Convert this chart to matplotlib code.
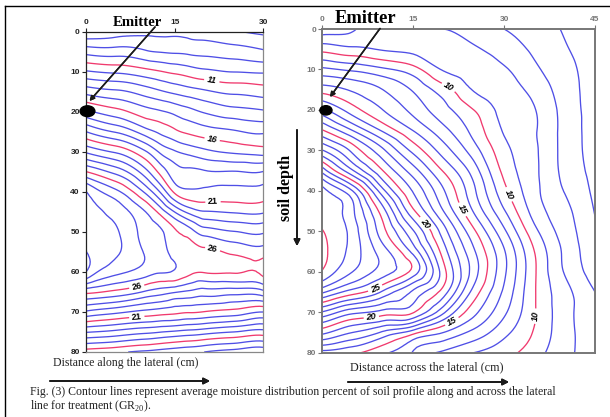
import numpy as np
import matplotlib
matplotlib.use("Agg")
import matplotlib.pyplot as plt
import matplotlib.tri as mtri
from matplotlib.patches import Ellipse
from matplotlib.lines import Line2D

# ---- soil moisture (%) sampled on a grid; rows = depth, columns = distance ----
depth_cm = [0, 5, 10, 15, 20, 25, 30, 35, 40, 45, 50, 55, 60, 65, 70, 75, 80]

along_cm = [0, 5, 10, 12.5, 15, 17.5, 20, 25, 30]
along_moisture = [
    [7.1, 7.5, 7.8, 7.82, 7.85, 7.7, 7.5, 7.1, 6.8],
    [9.68, 9.52, 9.17, 8.98, 8.89, 8.8, 8.72, 8.51, 8.17],
    [12.15, 11.86, 11.41, 11.11, 10.82, 10.53, 10.27, 10.0, 9.9],
    [14.68, 14.24, 13.58, 13.18, 12.81, 12.49, 12.21, 11.81, 11.56],
    [17.29, 16.42, 15.46, 15.15, 14.77, 14.34, 13.93, 13.42, 13.16],
    [20.05, 18.95, 17.5, 16.82, 16.24, 15.82, 15.51, 15.15, 14.88],
    [22.88, 21.89, 20.17, 18.88, 18.13, 17.68, 17.3, 16.85, 16.57],
    [26.07, 24.7, 22.43, 20.76, 19.44, 19.21, 19.13, 19.08, 19.05],
    [29.05, 27.32, 24.85, 23.0, 20.83, 20.2, 20.22, 20.33, 20.42],
    [29.35, 28.64, 27.05, 25.7, 24.0, 22.7, 22.1, 21.91, 21.88],
    [29.6, 29.15, 27.6, 27.2, 26.17, 25.5, 24.57, 24.07, 23.88],
    [30.02, 29.15, 27.9, 27.5, 26.6, 26.5, 26.29, 25.8, 25.52],
    [30.0, 28.3, 27.5, 27.1, 26.9, 26.3, 26.07, 26.1, 26.35],
    [26.29, 25.72, 24.86, 24.45, 24.09, 23.8, 23.53, 23.42, 23.7],
    [22.83, 22.25, 21.7, 21.48, 21.28, 21.1, 20.95, 20.6, 20.0],
    [19.07, 18.71, 18.25, 18.04, 17.83, 17.62, 17.41, 16.99, 16.6],
    [15.5, 15.2, 14.8, 14.6, 14.4, 14.2, 14.0, 13.6, 13.3],
]

across_cm = [0, 5, 10, 15, 20, 25, 30, 35, 40, 45]
across_moisture = [
    [7.4, 7.9, 8.25, 8.25, 8.0, 7.5, 7.0, 6.45, 5.92, 5.35],
    [9.67, 9.25, 8.9, 8.7, 8.5, 8.15, 7.55, 6.8, 6.1, 5.45],
    [12.24, 11.8, 11.2, 10.4, 8.9, 8.5, 8.1, 7.2, 6.34, 5.55],
    [14.54, 13.85, 13.0, 11.9, 10.45, 8.92, 8.4, 7.67, 6.5, 5.6],
    [17.28, 15.44, 14.0, 12.7, 11.35, 10.0, 8.68, 8.05, 6.62, 5.65],
    [20.05, 17.95, 15.8, 13.95, 12.3, 10.65, 8.9, 8.1, 6.65, 5.65],
    [23.06, 20.7, 18.2, 15.7, 13.5, 11.45, 9.32, 8.17, 6.65, 5.7],
    [26.6, 23.1, 20.0, 17.45, 14.9, 12.5, 9.72, 8.21, 6.71, 5.75],
    [29.4, 27.0, 22.3, 18.9, 16.1, 13.2, 10.3, 8.29, 6.95, 5.8],
    [29.8, 28.2, 24.4, 20.2, 17.0, 13.9, 11.1, 8.6, 7.29, 5.95],
    [30.05, 28.56, 25.35, 22.1, 18.45, 15.2, 12.2, 9.3, 7.54, 6.15],
    [30.3, 28.57, 26.45, 23.65, 19.5, 16.15, 13.1, 10.0, 7.8, 6.35],
    [29.9, 28.0, 26.5, 24.6, 20.4, 16.5, 13.2, 10.15, 7.93, 6.55],
    [27.2, 25.5, 23.8, 21.8, 19.5, 15.6, 12.8, 10.1, 8.35, 7.0],
    [22.9, 21.3, 20.6, 20.1, 17.2, 14.3, 12.2, 10.1, 8.4, 7.15],
    [19.3, 18.0, 16.8, 15.4, 14.0, 12.7, 11.3, 9.9, 8.4, 7.3],
    [15.6, 15.2, 14.2, 12.9, 11.8, 11.0, 10.35, 9.45, 8.3, 7.4],
]

along_levels = list(range(7, 31))
along_major = [11, 16, 21, 26]
across_levels = list(range(5, 31))
across_major = [10, 15, 20, 25, 30]

along_ticks_x = [0, 15, 30]
across_ticks_x = [0, 15, 30, 45]
depth_ticks = [0, 10, 20, 30, 40, 50, 60, 70, 80]

BLUE = "#4f4fe6"
RED = "#f03a6e"

W, H = 610, 417
fig = plt.figure(figsize=(W / 100, H / 100), dpi=100)


def rect(x0, y0, x1, y1):
    return [x0 / W, 1 - y1 / H, (x1 - x0) / W, (y1 - y0) / H]


def fpt(x, y):
    return (x / W, 1 - y / H)


def panel(ax, xs, grid, levels, major):
    X, D = np.meshgrid(np.array(xs, float), np.array(depth_cm, float))
    tri = mtri.Triangulation(X.ravel(), D.ravel())
    fine_tri, fine_z = mtri.UniformTriRefiner(tri).refine_field(
        np.array(grid, float).ravel(), subdiv=3)
    minor = [l for l in levels if l not in major]
    ax.tricontour(fine_tri, fine_z, levels=minor, colors=BLUE, linewidths=0.95)
    cs = ax.tricontour(fine_tri, fine_z, levels=major, colors=RED, linewidths=0.95)
    ax.set_xlim(0, xs[-1])
    ax.set_ylim(80, 0)
    ax.xaxis.tick_top()
    ax.set_yticks(depth_ticks)
    return cs


axL = fig.add_axes(rect(86, 32, 263.3, 352))
axR = fig.add_axes(rect(322.3, 29, 595, 352.7))

csL = panel(axL, along_cm, along_moisture, along_levels, along_major)
csR = panel(axR, across_cm, across_moisture, across_levels, across_major)

axL.set_xticks(along_ticks_x)
axR.set_xticks(across_ticks_x)

for ax, col, lw in ((axL, "#222222", 0.9), (axR, "#777777", 1.4)):
    ax.tick_params(axis="both", which="both", length=3, width=0.8, pad=1.5,
                   labelsize=6, colors=col, direction="out")
    for lab in ax.get_xticklabels() + ax.get_yticklabels():
        lab.set_fontweight("bold")
        lab.set_family("Liberation Sans")
    for s in ax.spines.values():
        s.set_color(col)
        s.set_linewidth(lw)
axL.spines["right"].set_color("#888888")
axL.spines["bottom"].set_color("#888888")

# contour value labels on the highlighted isolines
labL = axL.clabel(csL, fmt="%d", fontsize=6.5, inline=True, inline_spacing=2,
                  manual=[(21.3, 12.0), (21.3, 27.2), (21.5, 43.0), (21.3, 54.9),
                          (8.6, 63.8), (8.6, 71.3)])
labR = axR.clabel(csR, fmt="%d", fontsize=6.5, inline=True, inline_spacing=2,
                  manual=[(21.0, 14.0), (30.6, 41.0), (35.5, 71.0), (23.0, 44.7),
                          (21.3, 72.0), (16.9, 48.0), (8.1, 71.4), (8.7, 64.0)])
for t in list(labL) + list(labR):
    t.set_fontweight("bold")
    t.set_family("Liberation Sans")
    t.set_color("black")
for t in labL:
    if t.get_text() in ("11", "16"):
        t.set_style("italic")
for t in labR:
    t.set_style("italic")

# emitters
for ax, cx, cy, w, h in ((axL, 0.25, 19.8, 2.5, 2.7), (axR, 0.6, 20.1, 2.0, 2.3)):
    ax.add_patch(Ellipse((cx, cy), w, h, color="black", clip_on=False, zorder=5))

serif = "Liberation Serif"
fig.text(*fpt(137.5, 23), "Emitter", family=serif, weight="bold", fontsize=10.6,
         ha="center", va="center")
fig.text(*fpt(365.0, 18.5), "Emitter", family=serif, weight="bold", fontsize=13.3,
         ha="center", va="center")

arrow = dict(arrowstyle="-|>", color="#1a1a1a", lw=1.1, mutation_scale=7,
             shrinkA=0, shrinkB=0)
fig.add_artist(plt.annotate("", xy=fpt(89.5, 101), xytext=fpt(155, 27),
                            xycoords="figure fraction", textcoords="figure fraction",
                            arrowprops=arrow))
fig.add_artist(plt.annotate("", xy=fpt(330, 97), xytext=fpt(380, 28.5),
                            xycoords="figure fraction", textcoords="figure fraction",
                            arrowprops=arrow))

# soil depth indicator
fig.text(*fpt(286.5, 188), "soil depth", family=serif, weight="bold", fontsize=11.5,
         rotation=90, ha="center", va="center")
big = dict(arrowstyle="-|>", color="#1a1a1a", lw=1.3, mutation_scale=9,
           shrinkA=0, shrinkB=0)
fig.add_artist(plt.annotate("", xy=fpt(297, 246), xytext=fpt(297, 130),
                            xycoords="figure fraction", textcoords="figure fraction",
                            arrowprops=big))

# distance captions with arrows
fig.text(*fpt(53, 366), "Distance along the lateral (cm)", family=serif,
         fontsize=8.5, ha="left", va="baseline", color="#222222")
fig.text(*fpt(350, 370.5), "Distance across the lateral (cm)", family=serif,
         fontsize=8.7, ha="left", va="baseline", color="#222222")
fig.add_artist(plt.annotate("", xy=fpt(210, 381), xytext=fpt(50, 381),
                            xycoords="figure fraction", textcoords="figure fraction",
                            arrowprops=big))
fig.add_artist(plt.annotate("", xy=fpt(509, 382), xytext=fpt(348, 382),
                            xycoords="figure fraction", textcoords="figure fraction",
                            arrowprops=big))

fig.text(*fpt(30, 386.5),
         "Fig. (3) Contour lines represent average moisture distribution percent of "
         "soil profile along and across the lateral\n"
         r"line for treatment (GR$_{\mathregular{20}}$).",
         family=serif, fontsize=8.5, ha="left", va="top", color="#222222",
         linespacing=0.98)

# page frame
fig.add_artist(Line2D([5 / W, 1], [1 - 6 / H, 1 - 6 / H], transform=fig.transFigure,
                      color="black", lw=1.0))
fig.add_artist(Line2D([5 / W, 5 / W], [0, 1 - 6 / H], transform=fig.transFigure,
                      color="black", lw=1.0))

fig.savefig("out.png", dpi=100)
